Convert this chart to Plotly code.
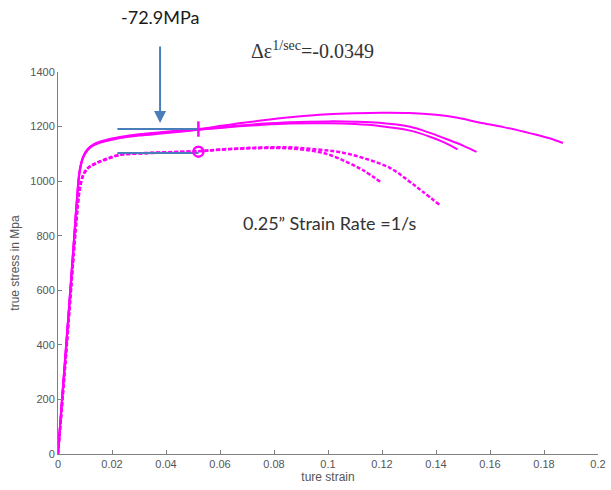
import plotly.graph_objects as go

# ---- data ----
elastic_strain = [0, 0.001, 0.002, 0.003, 0.004, 0.005, 0.006, 0.007, 0.008, 0.0093]

a_strain = elastic_strain + [0.011, 0.013, 0.016, 0.02, 0.023, 0.03, 0.04, 0.052, 0.06, 0.067, 0.075,
                             0.086, 0.1, 0.11, 0.12, 0.13, 0.14, 0.148, 0.156, 0.165, 0.175, 0.182, 0.187]
a_stress = [0, 140, 270, 400, 530, 665, 800, 935, 1040, 1090,
            1118, 1134, 1146, 1156, 1162, 1172, 1181, 1191, 1202, 1212, 1222,
            1234, 1245, 1249, 1251, 1250, 1243, 1232, 1215, 1198, 1175, 1157, 1140]

b_strain = elastic_strain + [0.011, 0.013, 0.016, 0.02, 0.023, 0.03, 0.04, 0.052, 0.06, 0.067, 0.075,
                             0.086, 0.1, 0.11, 0.119, 0.13, 0.138, 0.145, 0.15, 0.155]
b_stress = [0, 135, 265, 395, 525, 660, 795, 930, 1035, 1088,
            1116, 1132, 1144, 1154, 1160, 1169, 1178, 1189, 1197, 1204, 1210,
            1216, 1219, 1218, 1214, 1200, 1176, 1150, 1130, 1107]

c_strain = elastic_strain + [0.011, 0.013, 0.016, 0.02, 0.023, 0.03, 0.04, 0.052, 0.06, 0.067, 0.075,
                             0.086, 0.1, 0.11, 0.119, 0.13, 0.138, 0.143, 0.148]
c_stress = [0, 130, 260, 390, 520, 655, 790, 925, 1030, 1085,
            1114, 1130, 1142, 1152, 1158, 1167, 1176, 1188, 1195, 1201, 1206,
            1211, 1212, 1209, 1202, 1186, 1162, 1142, 1116]

d_strain = [0, 0.001, 0.002, 0.003, 0.004, 0.005, 0.006, 0.007, 0.008, 0.0093, 0.011, 0.014, 0.018,
            0.023, 0.03, 0.04, 0.052, 0.06, 0.074, 0.086, 0.096, 0.1007, 0.107, 0.113, 0.12]
d_stress = [0, 120, 245, 370, 500, 630, 760, 880, 970, 1022, 1048, 1066, 1082,
            1097, 1102, 1106, 1110, 1115, 1121, 1120, 1108, 1096, 1070, 1040, 993]

e_strain = [0, 0.001, 0.002, 0.003, 0.004, 0.005, 0.006, 0.007, 0.008, 0.0093, 0.011, 0.014, 0.018,
            0.023, 0.03, 0.04, 0.052, 0.06, 0.074, 0.086, 0.096, 0.104, 0.113, 0.123, 0.13, 0.135, 0.1415]
e_stress = [0, 115, 240, 365, 495, 625, 755, 875, 965, 1020, 1046, 1064, 1080,
            1096, 1101, 1105, 1110, 1116, 1123, 1124, 1116, 1107, 1085, 1048, 1000, 962, 912]

upper_level_strain = [0.022, 0.052]
upper_level_stress = [1191, 1191]
lower_level_strain = [0.022, 0.052]
lower_level_stress = [1103, 1103]

plus_mark_strain = [0.052]
plus_mark_stress = [1191]
circle_mark_strain = [0.052]
circle_mark_stress = [1108]

arrow_strain = 0.0378
arrow_stress = 1213

x_ticks = [0, 0.02, 0.04, 0.06, 0.08, 0.1, 0.12, 0.14, 0.16, 0.18, 0.2]
x_tick_labels = ["0", "0.02", "0.04", "0.06", "0.08", "0.1", "0.12", "0.14", "0.16", "0.18", "0.2"]
y_ticks = [0, 200, 400, 600, 800, 1000, 1200, 1400]
y_tick_labels = ["0", "200", "400", "600", "800", "1000", "1200", "1400"]

MAG = "#ff00ff"
BLUE = "#4a7ebb"

fig = go.Figure()
for xs, ys in [(a_strain, a_stress), (b_strain, b_stress), (c_strain, c_stress)]:
    fig.add_trace(go.Scatter(x=xs, y=ys, mode="lines", line=dict(color=MAG, width=2),
                             line_shape="spline", showlegend=False))
for xs, ys in [(d_strain, d_stress), (e_strain, e_stress)]:
    fig.add_trace(go.Scatter(x=xs, y=ys, mode="lines", line=dict(color=MAG, width=2.5, dash="4px,2px"),
                             line_shape="spline", showlegend=False))

fig.add_trace(go.Scatter(x=upper_level_strain, y=upper_level_stress, mode="lines",
                         line=dict(color=BLUE, width=2), showlegend=False))
fig.add_trace(go.Scatter(x=lower_level_strain, y=lower_level_stress, mode="lines",
                         line=dict(color=BLUE, width=2), showlegend=False))
fig.add_trace(go.Scatter(x=plus_mark_strain, y=plus_mark_stress, mode="markers",
                         marker=dict(symbol="line-ns", size=11, line=dict(color=MAG, width=2.5)),
                         showlegend=False))
fig.add_trace(go.Scatter(x=circle_mark_strain, y=circle_mark_stress, mode="markers",
                         marker=dict(symbol="circle-open", size=10, color=MAG, line=dict(color=MAG, width=2.5)),
                         showlegend=False))

L, R, T, B = 58, 13, 72, 36
W, H = 611, 490
pw, ph = W - L - R, H - T - B

def px(x):
    return (x - L) / pw

def py(y):
    return (H - B - y) / ph

# label "-72.9MPa" with the blue arrow pointing down to the upper level line
fig.add_annotation(x=arrow_strain, y=arrow_stress, ax=0, ay=-106, xref="x", yref="y",
                   showarrow=True, arrowhead=2, arrowsize=1.2, arrowwidth=2, arrowcolor=BLUE,
                   text="-72.9MPa", borderpad=18,
                   font=dict(family="Lato", size=18, color="#1a1a1a"))
fig.add_annotation(x=px(312), y=py(50), xref="paper", yref="paper", showarrow=False,
                   xanchor="center", yanchor="middle",
                   text="Δε<sup>1/sec</sup>=-0.0349", font=dict(family="Liberation Serif", size=20, color="#333333"))
fig.add_annotation(x=px(330), y=py(223), xref="paper", yref="paper", showarrow=False,
                   xanchor="center", yanchor="middle",
                   text="0.25\u201d Strain Rate =1/s", font=dict(family="Lato", size=18, color="#333333"))

axis_common = dict(showgrid=False, zeroline=False, showline=True, linecolor="#808080", linewidth=1,
                   ticks="inside", ticklen=4, tickcolor="#808080",
                   tickfont=dict(family="Liberation Sans", size=11, color="#555555"))

fig.update_xaxes(range=[0, 0.2], tickvals=x_ticks, ticktext=x_tick_labels,
                 title=dict(text="ture strain", font=dict(family="Liberation Sans", size=12, color="#555555"), standoff=2),
                 **axis_common)
fig.update_yaxes(range=[0, 1400], tickvals=y_ticks, ticktext=y_tick_labels,
                 title=dict(text="true stress in Mpa", font=dict(family="Liberation Sans", size=12, color="#555555"), standoff=8),
                 **axis_common)

fig.update_layout(width=W, height=H, margin=dict(l=L, r=R, t=T, b=B, autoexpand=False),
                  plot_bgcolor="white", paper_bgcolor="white")

fig.write_html("out.html")
